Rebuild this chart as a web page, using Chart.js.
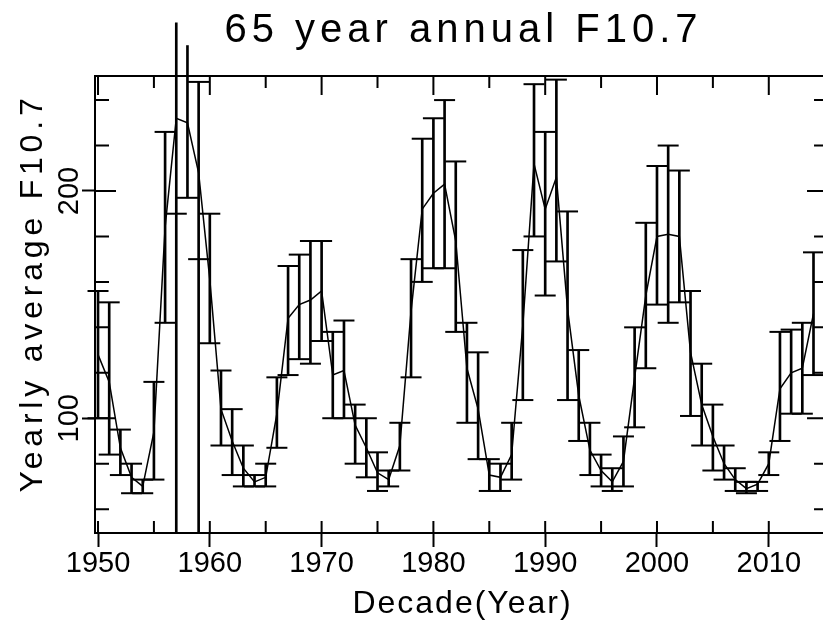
<!DOCTYPE html>
<html>
<head>
<meta charset="utf-8">
<script src="https://cdn.jsdelivr.net/npm/chart.js@4.4.1/dist/chart.umd.min.js"></script>
<style>
  html, body { margin: 0; padding: 0; background: #fff; overflow: hidden; }
  #f107Chart { display: block; }
</style>
</head>
<body>
<canvas id="f107Chart" width="823" height="622"></canvas>
<script>
// yearly F10.7: mean and the spread bar (low..high)
const years = [
  1950, 1951, 1952, 1953, 1954, 1955, 1956, 1957, 1958, 1959,
  1960, 1961, 1962, 1963, 1964, 1965, 1966, 1967, 1968, 1969,
  1970, 1971, 1972, 1973, 1974, 1975, 1976, 1977, 1978, 1979,
  1980, 1981, 1982, 1983, 1984, 1985, 1986, 1987, 1988, 1989,
  1990, 1991, 1992, 1993, 1994, 1995, 1996, 1997, 1998, 1999,
  2000, 2001, 2002, 2003, 2004, 2005, 2006, 2007, 2008, 2009,
  2010, 2011, 2012, 2013, 2014
];
const meanFlux = [
  128, 116, 87, 74, 70, 94, 184, 232, 230, 208,
  161, 104, 90, 78, 72, 74, 102, 144, 150, 152,
  156, 119, 121, 97, 87, 76, 73, 88, 147, 192,
  199, 203, 178, 122, 104, 75, 74, 84, 141, 212,
  192, 206, 148, 110, 86, 77, 72, 81, 118, 154,
  180, 181, 180, 129, 106, 92, 80, 73, 69, 71,
  80, 113, 120, 122, 146
];
const highFlux = [
  156, 151, 95, 80, 73, 116, 226, 274, 264, 248,
  190, 121, 104, 88, 75, 80, 118, 167, 172, 178,
  178, 138, 143, 106, 100, 85, 77, 98, 170, 223,
  232, 240, 213, 142, 129, 82, 80, 98, 174, 247,
  226, 249, 191, 130, 98, 84, 78, 92, 140, 186,
  211, 220, 209, 156, 124, 106, 88, 78, 72, 72,
  85, 138, 139, 142, 173
];
const lowFlux = [
  100, 84, 75, 67, 67, 73, 142, 190, 197, 170,
  133, 88, 75, 70, 70, 70, 87, 119, 126, 124,
  134, 100, 100, 80, 74, 68, 70, 77, 118, 160,
  166, 166, 138, 98, 82, 68, 68, 73, 108, 180,
  154, 169, 108, 90, 75, 70, 68, 70, 96, 122,
  150, 142, 151, 101, 88, 77, 73, 68, 67, 68,
  75, 90, 102, 102, 119
];
// years whose lower bar runs down to the bottom of the frame
const spikeYears = [1957, 1959];

const xTickLabels = [1950, 1960, 1970, 1980, 1990, 2000, 2010];
const yTickLabels = [100, 200];

const titleText = '65 year annual F10.7';
const xTitleText = 'Decade(Year)';
const yTitleText = 'Yearly average F10.7';

const X_MIN = 1949.73;
const X_MAX = 2014.85;     // right edge of the canvas
const FRAME_X_MAX = 2015.3; // the frame's right side sits just past the canvas
const Y_MIN = 49.5;
const Y_MAX = 250.6;
const FONT = '"Liberation Sans", Arial, Helvetica, sans-serif';
const INK = '#000';

function isLabelled(list, value) {
  return list.includes(Math.round(value));
}

// inward ticks on all four sides plus the top/right frame
const frameTicks = {
  id: 'frameTicks',
  afterDraw(chart) {
    const { ctx, chartArea: a, scales: { x, y } } = chart;
    const right = x.getPixelForValue(FRAME_X_MAX);
    ctx.save();
    ctx.strokeStyle = INK;
    ctx.lineWidth = 2;
    ctx.beginPath();
    ctx.moveTo(a.left, a.top);
    ctx.lineTo(right, a.top);
    ctx.lineTo(right, a.bottom);
    x.ticks.forEach(t => {
      const px = x.getPixelForValue(t.value);
      const major = isLabelled(xTickLabels, t.value);
      ctx.moveTo(px, a.bottom);
      ctx.lineTo(px, a.bottom - 12);
      ctx.moveTo(px, a.top);
      ctx.lineTo(px, a.top + (major ? 19 : 12));
    });
    y.ticks.forEach(t => {
      const py = y.getPixelForValue(t.value);
      const len = isLabelled(yTickLabels, t.value) ? 21 : 14;
      ctx.moveTo(a.left, py);
      ctx.lineTo(a.left + len, py);
      ctx.moveTo(right, py);
      ctx.lineTo(right - len, py);
    });
    ctx.stroke();
    ctx.restore();
  }
};

// titles drawn with letter spacing to mimic the spaced plot font
const titles = {
  id: 'titles',
  afterDraw(chart) {
    const { ctx, chartArea: a, scales: { x } } = chart;
    const cx = (a.left + x.getPixelForValue(FRAME_X_MAX)) / 2;
    ctx.save();
    ctx.fillStyle = INK;
    ctx.textAlign = 'center';
    ctx.textBaseline = 'alphabetic';

    ctx.font = `40px ${FONT}`;
    ctx.letterSpacing = '5px';
    ctx.fillText(titleText, cx + 2, 42);

    ctx.font = `32px ${FONT}`;
    ctx.letterSpacing = '2px';
    ctx.fillText(xTitleText, cx + 1, 613);

    ctx.translate(42, 293);
    ctx.rotate(-Math.PI / 2);
    ctx.letterSpacing = '4.8px';
    ctx.fillText(yTitleText, 0, 0);
    ctx.restore();
  }
};

const spreadBars = years.map((yr, i) => ({ x: yr, y: [lowFlux[i], highFlux[i]] }));
const spikeBars = spikeYears.map(yr => ({ x: yr, y: [Y_MIN, lowFlux[years.indexOf(yr)]] }));
const topCaps = years.map((yr, i) => ({ x: yr, y: highFlux[i] }));
const bottomCaps = years.map((yr, i) => ({ x: yr, y: lowFlux[i] }));
const meanPoints = years.map((yr, i) => ({ x: yr, y: meanFlux[i] }));

const capStyle = {
  type: 'line',
  showLine: false,
  pointStyle: 'line',
  pointRadius: 10.5,
  pointBorderWidth: 2,
  pointBorderColor: INK,
  pointBackgroundColor: INK,
  clip: false
};

new Chart(document.getElementById('f107Chart').getContext('2d'), {
  type: 'line',
  data: {
    datasets: [
      {
        type: 'bar',
        label: 'spread',
        data: spreadBars,
        backgroundColor: INK,
        borderWidth: 0,
        barThickness: 2,
        grouped: false,
        clip: false
      },
      {
        type: 'bar',
        label: 'spikes',
        data: spikeBars,
        backgroundColor: INK,
        borderWidth: 0,
        barThickness: 2,
        grouped: false,
        clip: false
      },
      { ...capStyle, label: 'high', data: topCaps },
      { ...capStyle, label: 'low', data: bottomCaps },
      {
        type: 'line',
        label: 'mean',
        data: meanPoints,
        borderColor: INK,
        borderWidth: 1.5,
        pointRadius: 0,
        tension: 0,
        fill: false
      }
    ]
  },
  options: {
    responsive: false,
    animation: false,
    events: [],
    layout: { autoPadding: false, padding: { left: 0, right: 0, top: 76, bottom: 0 } },
    plugins: {
      legend: { display: false },
      tooltip: { enabled: false },
      title: { display: false }
    },
    scales: {
      x: {
        type: 'linear',
        min: X_MIN,
        max: X_MAX,
        offset: false,
        ticks: {
          stepSize: 5,
          includeBounds: false,
          autoSkip: false,
          maxRotation: 0,
          minRotation: 0,
          padding: 0,
          color: INK,
          font: { family: FONT, size: 29 },
          callback: v => isLabelled(xTickLabels, v) ? String(Math.round(v)) : ''
        },
        grid: {
          offset: false,
          drawOnChartArea: false,
          tickLength: 14,
          tickWidth: 2,
          tickColor: c => isLabelled(xTickLabels, c.tick.value) ? INK : 'rgba(0,0,0,0)'
        },
        border: { display: true, color: INK, width: 2 },
        afterFit: s => { s.height = 89; }
      },
      y: {
        type: 'linear',
        min: Y_MIN,
        max: Y_MAX,
        ticks: {
          stepSize: 20,
          includeBounds: false,
          autoSkip: false,
          minRotation: 90,
          maxRotation: 90,
          crossAlign: 'center',
          padding: -12,
          color: INK,
          font: { family: FONT, size: 29 },
          callback: v => isLabelled(yTickLabels, v) ? String(Math.round(v)) : ''
        },
        grid: {
          drawOnChartArea: false,
          tickLength: 13,
          tickWidth: 2,
          tickColor: c => isLabelled(yTickLabels, c.tick.value) ? INK : 'rgba(0,0,0,0)'
        },
        border: { display: true, color: INK, width: 2 },
        afterFit: s => { s.width = 95; }
      }
    }
  },
  plugins: [frameTicks, titles]
});
</script>
</body>
</html>
